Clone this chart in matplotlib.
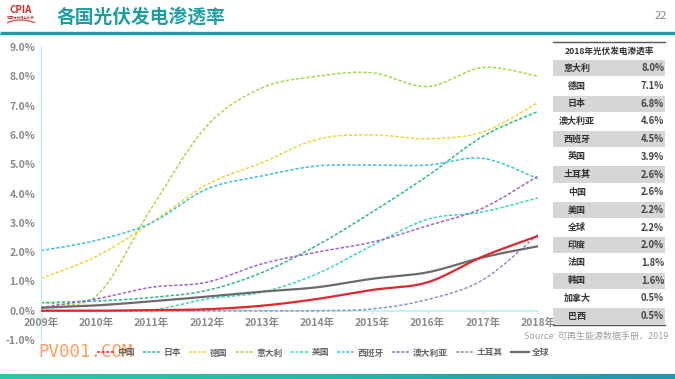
import numpy as np
import matplotlib
matplotlib.use("Agg")
import matplotlib.pyplot as plt
from matplotlib.patches import Rectangle, Arc
from matplotlib.colors import LinearSegmentedColormap

plt.rcParams['font.family'] = ['Noto Sans CJK SC', 'DejaVu Sans']

years = [2009, 2010, 2011, 2012, 2013, 2014, 2015, 2016, 2017, 2018]
year_labels = [f"{y}年" for y in years]

china     = [0.00, 0.00, 0.02, 0.05, 0.17, 0.40, 0.71, 0.97, 1.85, 2.55]
japan     = [0.27, 0.33, 0.45, 0.69, 1.30, 2.23, 3.37, 4.60, 5.95, 6.80]
germany   = [1.10, 1.85, 3.00, 4.30, 5.05, 5.85, 6.00, 5.87, 6.10, 7.10]
italy     = [0.28, 0.50, 3.50, 6.30, 7.60, 8.00, 8.12, 7.65, 8.30, 8.00]
uk        = [0.00, 0.00, 0.02, 0.40, 0.63, 1.26, 2.23, 3.12, 3.37, 3.85]
spain     = [2.05, 2.40, 3.00, 4.15, 4.60, 4.94, 4.97, 4.97, 5.20, 4.50]
australia = [0.11, 0.40, 0.80, 0.97, 1.60, 2.00, 2.34, 2.90, 3.50, 4.60]
turkey    = [0.00, 0.00, 0.00, 0.00, 0.00, 0.00, 0.06, 0.38, 1.05, 2.60]
world     = [0.10, 0.18, 0.32, 0.48, 0.65, 0.80, 1.09, 1.31, 1.82, 2.20]

series_names = ['中国', '日本', '德国', '意大利', '英国', '西班牙', '澳大利亚', '土耳其', '全球']
series_vals = [china, japan, germany, italy, uk, spain, australia, turkey, world]
series_colors = ['#e3262b', '#2dbb83', '#f2d43a', '#a8d84c', '#3ad8c0', '#3ec3d6',
                 '#a264cf', '#8a97c4', '#6b6b6b']
series_solid = [True, False, False, False, False, False, False, False, True]

table_countries = ['意大利', '德国', '日本', '澳大利亚', '西班牙', '英国', '土耳其', '中国',
                   '美国', '全球', '印度', '法国', '韩国', '加拿大', '巴西']
table_values = ['8.0%', '7.1%', '6.8%', '4.6%', '4.5%', '3.9%', '2.6%', '2.6%',
                '2.2%', '2.2%', '2.0%', '1.8%', '1.6%', '0.5%', '0.5%']

yticks = [-1, 0, 1, 2, 3, 4, 5, 6, 7, 8, 9]


def smooth(x, y, n=30):
    x = np.asarray(x, float)
    y = np.asarray(y, float)
    P = np.column_stack([x, y])
    out = []
    for i in range(len(P) - 1):
        p0 = P[i - 1] if i > 0 else P[i]
        p1 = P[i]
        p2 = P[i + 1]
        p3 = P[i + 2] if i + 2 < len(P) else P[i + 1]
        c1 = p1 + (p2 - p0) / 6.0
        c2 = p2 - (p3 - p1) / 6.0
        t = np.linspace(0, 1, n)[:, None]
        seg = ((1 - t) ** 3) * p1 + 3 * ((1 - t) ** 2) * t * c1 + 3 * (1 - t) * t ** 2 * c2 + t ** 3 * p2
        out.append(seg if i == 0 else seg[1:])
    s = np.vstack(out)
    return s[:, 0], s[:, 1]


W, H = 675, 379
fig = plt.figure(figsize=(W / 100, H / 100), dpi=100)
fig.patch.set_facecolor('white')

left, right, top, bottom = 41, 538, 47, 340
ax = fig.add_axes([left / W, (H - bottom) / H, (right - left) / W, (bottom - top) / H])
ax.set_xlim(2009, 2018)
ax.set_ylim(-1, 9)
ax.patch.set_alpha(0)
for s in ['top', 'right', 'bottom']:
    ax.spines[s].set_visible(False)
ax.spines['left'].set_color('#b8f0ec')
ax.spines['left'].set_linewidth(1.0)
ax.axhline(0, color='#b8f0ec', lw=1.2, zorder=1)
ax.set_yticks(yticks)
ax.set_yticklabels([f"{v:.1f}%" for v in yticks], color='#8a8a8a', fontsize=7.5, fontweight='bold')
ax.tick_params(axis='y', length=0, pad=4)
ax.set_xticks([])
for y, lab in zip(years, year_labels):
    ax.plot([y, y], [0, -0.07], color='#b8f0ec', lw=1, clip_on=False)
    ax.text(y, -0.25, lab, ha='center', va='top', fontsize=7.5, color='#8a8a8a', fontweight='bold')

order = [3, 2, 1, 5, 4, 6, 7, 8, 0]
for idx in order:
    xs, ys = smooth(years, series_vals[idx])
    if series_solid[idx]:
        ax.plot(xs, ys, color=series_colors[idx], lw=1.6, solid_capstyle='round', zorder=3)
    else:
        ax.plot(xs, ys, color=series_colors[idx], lw=1.1, dashes=(2.2, 1.2), zorder=2)

handles = []
for i, name in enumerate(series_names):
    if name == '全球':
        h, = ax.plot([], [], color=series_colors[i], lw=1.6, label=name)
    else:
        h, = ax.plot([], [], color=series_colors[i], lw=1.1, dashes=(2.0, 1.0), label=name)
    handles.append(h)

leg = fig.legend(handles=handles, loc='center', bbox_to_anchor=(323 / W, (H - 353) / H), ncol=9,
                 frameon=False, fontsize=6.3, handlelength=2.0, handletextpad=0.35,
                 columnspacing=0.95, borderpad=0, borderaxespad=0)
for t in leg.get_texts():
    t.set_color('#666666')
    t.set_fontweight('bold')

ov = fig.add_axes([0, 0, 1, 1])
ov.axis('off')
ov.patch.set_alpha(0)

ov.text(57, 17, '各国光伏发电渗透率', fontsize=13.5, fontweight='bold', color='#1d9ea3', va='center', ha='left')
ov.text(667, 16, '22', fontsize=8, color='#888888', style='italic', va='center', ha='right')
ov.plot([0, W], [32.5, 32.5], color='#1d9aa8', lw=2.4, solid_capstyle='butt')
ov.text(21, 10, 'CPIA', fontsize=7, fontweight='bold', color='#d8282a', va='center', ha='center')
ov.add_patch(Arc((21, 28), 36, 16, theta1=200, theta2=340, color='#e05050', lw=1.0))
ov.text(21, 18, '中国光伏行业协会', fontsize=2.5, color='#a03030', va='center', ha='center')

grad = np.linspace(0, 1, 256)[None, :]
cmap = LinearSegmentedColormap.from_list('bar', ['#2cc9a6', '#22b8ab', '#1f97ad'])
ov.imshow(grad, aspect='auto', cmap=cmap, extent=(0, W, 379, 374), zorder=1)
ov.set_xlim(0, W)
ov.set_ylim(H, 0)

tx0, tx1 = 553, 665
ov.plot([tx0, tx1], [42, 42], color='#555555', lw=1.0)
ov.text((tx0 + tx1) / 2, 51, '2018年光伏发电渗透率', fontsize=6.2, fontweight='bold', color='#333333',
        ha='center', va='center')
row_h = 17.7
y0 = 68.3
for i, (c, v) in enumerate(zip(table_countries, table_values)):
    yc = y0 + i * row_h
    if i % 2 == 0:
        ov.add_patch(Rectangle((tx0, yc - row_h / 2 + 0.8), tx1 - tx0, row_h - 1.6,
                               facecolor='#d6d6d6', edgecolor='none'))
    ov.text(577, yc, c, fontsize=6.5, fontweight='bold', color='#333333', ha='center', va='center')
    ov.text(664, yc, v, fontsize=6.8, fontweight='bold', color='#444444', ha='right', va='center')
ov.plot([tx0, tx1], [325, 325], color='#555555', lw=1.0)

ov.text(668, 336, 'Source: 可再生能源数据手册，2019', fontsize=6.5, style='italic', color='#a0a0a0',
        ha='right', va='center')

ov.text(38, 352, 'PV001.COM', fontsize=12.5, color='#ff8c40', alpha=0.85, ha='left', va='center',
        family='DejaVu Sans Mono')

fig.savefig('out.png', dpi=100)
